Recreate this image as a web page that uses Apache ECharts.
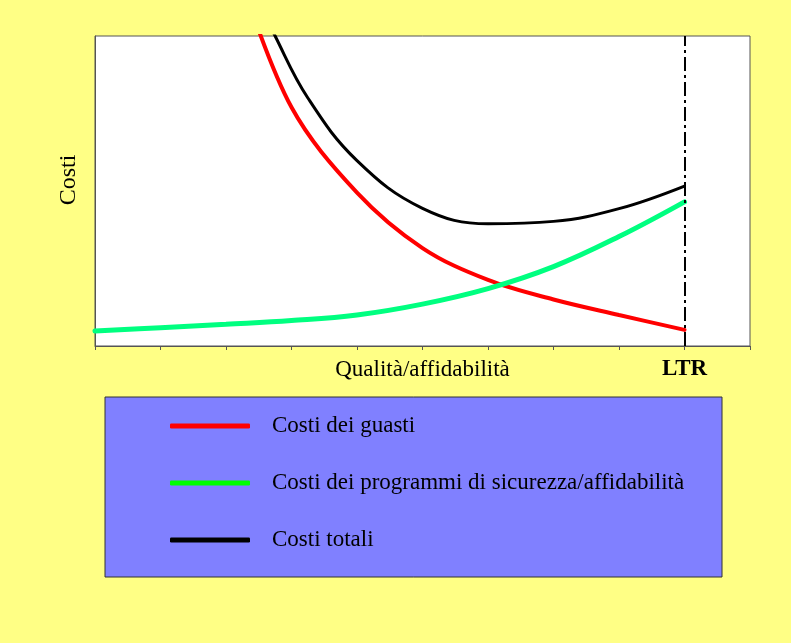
<!DOCTYPE html>
<html>
<head>
<meta charset="utf-8">
<script src="https://cdn.jsdelivr.net/npm/echarts@6/dist/echarts.min.js"></script>
<style>
  html, body { margin: 0; padding: 0; background: #ffff85; }
  #chart { width: 791px; height: 643px; }
</style>
</head>
<body>
<div id="chart"></div>
<script>
// Quality/reliability level (x) and costs (y) for the three curves;
// the first points of the falling curves lie above the plotted range and get clipped
const programX = [0, 1, 2, 3, 4, 5, 6, 7, 8, 9];
const programCosts = [4.8, 5.9, 7.0, 8.2, 10.0, 13.5, 18.5, 25.6, 35.3, 46.5];

const failureX = [2.25, 3, 4, 5, 6, 7, 8, 9];
const failureCosts = [117, 77, 49.5, 31.6, 21.3, 15.0, 10.0, 5.2];

const totalX = [2.25, 2.75, 3.25, 4, 5, 6, 7, 8, 9];
const totalCosts = [122, 100, 80, 59.8, 44.4, 39.4, 40.2, 44.3, 51.6];

const seriesNames = ['Costi dei guasti', 'Costi dei programmi di sicurezza/affidabilità', 'Costi totali'];

// Labelled x ticks
const tickValues = [5, 9];
const tickTexts = ['Qualità/affidabilità', 'LTR'];
const tickStyles = ['n', 'b'];

// LTR marker position
const ltrX = 9;

const pairs = (xs, ys) => xs.map((x, i) => [x, ys[i]]);

const chart = echarts.init(document.getElementById('chart'), null, { renderer: 'canvas' });
const serif = '"Liberation Serif", "Times New Roman", serif';

chart.setOption({
  backgroundColor: '#ffff85',
  animation: false,
  grid: {
    left: 95, right: 41, top: 36, bottom: 297,
    show: true, backgroundColor: '#ffffff', borderColor: '#555555', borderWidth: 1
  },
  graphic: [{
    type: 'rect', z: -1,
    shape: { x: 105, y: 397, width: 617, height: 180 },
    style: { fill: '#8080ff', stroke: '#333333', lineWidth: 1 }
  }],
  legend: {
    orient: 'vertical',
    left: 165, top: 408,
    itemWidth: 80, itemHeight: 5, itemGap: 31,
    icon: 'roundRect',
    textStyle: {
      fontFamily: serif, fontSize: 23, color: '#000', lineHeight: 26,
      padding: [0, 0, 0, 17]
    },
    data: [
      { name: seriesNames[0], itemStyle: { color: '#ff0000' } },
      { name: seriesNames[1], itemStyle: { color: '#00ff00' } },
      { name: seriesNames[2], itemStyle: { color: '#000000' } }
    ]
  },
  xAxis: {
    type: 'value', min: 0, max: 10, interval: 1,
    axisLine: { show: true, lineStyle: { color: '#555555', width: 1 } },
    axisTick: { show: true, length: 4, lineStyle: { color: '#555555' } },
    splitLine: { show: false },
    axisLabel: {
      margin: 12,
      formatter: function (v) {
        const i = tickValues.indexOf(v);
        return i < 0 ? '' : '{' + tickStyles[i] + '|' + tickTexts[i] + '}';
      },
      rich: {
        n: { fontFamily: serif, fontSize: 23, color: '#000' },
        b: { fontFamily: serif, fontSize: 23, fontWeight: 'bold', color: '#000' }
      }
    }
  },
  yAxis: {
    type: 'value', min: 0, max: 100,
    axisLine: { show: true, lineStyle: { color: '#555555' } },
    axisTick: { show: false },
    axisLabel: { show: false },
    splitLine: { show: false },
    name: 'Costi', nameLocation: 'middle', nameRotate: 90, nameGap: 14,
    nameTextStyle: { fontFamily: serif, fontSize: 24, color: '#000', padding: [0, 0, 0, 22] }
  },
  series: [
    {
      name: seriesNames[0], type: 'line', data: pairs(failureX, failureCosts),
      smooth: 0.35, clip: true, showSymbol: false, symbol: 'none',
      lineStyle: { color: '#ff0000', width: 4, cap: 'round' },
      itemStyle: { color: '#ff0000' }
    },
    {
      name: seriesNames[1], type: 'line', data: pairs(programX, programCosts),
      smooth: 0.4, clip: true, showSymbol: false, symbol: 'none',
      lineStyle: { color: '#00ff80', width: 5, cap: 'round' },
      itemStyle: { color: '#00ff80' }
    },
    {
      name: seriesNames[2], type: 'line', data: pairs(totalX, totalCosts),
      smooth: 0.4, clip: true, showSymbol: false, symbol: 'none',
      lineStyle: { color: '#000000', width: 3, cap: 'round' },
      itemStyle: { color: '#000000' },
      markLine: {
        silent: true, symbol: 'none', label: { show: false },
        lineStyle: { color: '#000000', width: 2, type: [14, 4, 3, 4] },
        data: [{ xAxis: ltrX }]
      }
    }
  ]
});
</script>
</body>
</html>
